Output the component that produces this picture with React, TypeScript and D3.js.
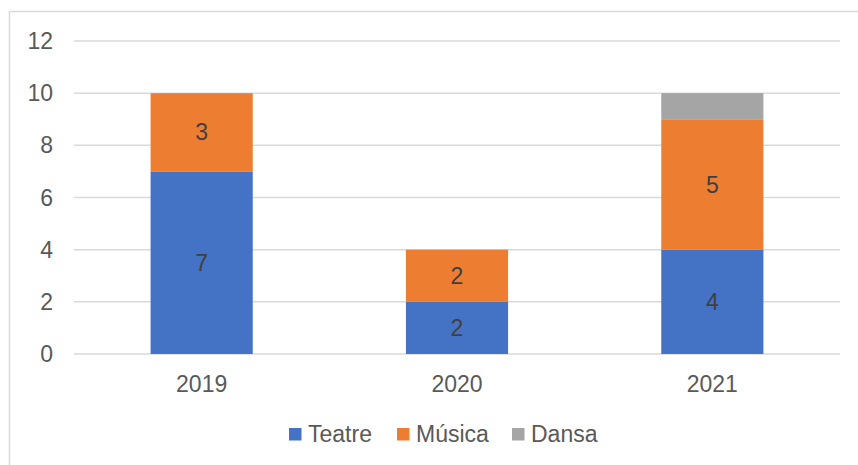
import React from "react";
import * as d3 from "d3";

const categories = ["2019", "2020", "2021"];
const seriesNames = ["Teatre", "Música", "Dansa"];
const teatre = [7, 2, 4];
const musica = [3, 2, 5];
const dansa = [0, 0, 1];
const yTicks = [0, 2, 4, 6, 8, 10, 12];
const colors = ["#4472c4", "#ed7d31", "#a5a5a5"];
const showLabel = [true, true, false];

const W = 858;
const H = 465;
const FONT = "Liberation Sans, Arial, sans-serif";
const FS = 23;

export default function App() {
  const x = d3.scaleBand<string>().domain(categories).range([74, 840]).padding(0);
  const y = d3.scaleLinear().domain([0, 12]).range([354, 41]);
  const barW = x.bandwidth() * 0.4;

  const rows = categories.map((c, i) => ({ cat: c, Teatre: teatre[i], "Música": musica[i], Dansa: dansa[i] }));
  const stack = d3.stack<any>().keys(seriesNames)(rows);

  // legend layout
  const sq = 12.5;
  const gapTxt = 6.5;
  const gapItem = 21;
  const widths = [68, 75, 68];
  let lx = 289;
  const legendItems = seriesNames.map((n, i) => {
    const item = { n, x: lx, c: colors[i] };
    lx += sq + gapTxt + widths[i] + gapItem;
    return item;
  });

  return (
    <svg width={W} height={H} style={{ position: "absolute", left: 0, top: 0, background: "#fff" }} fontFamily={FONT}>
      <rect x={9.5} y={11.5} width={W} height={H} fill="#fff" stroke="#d9d9d9" strokeWidth={1.5} />
      {yTicks.map((t) => (
        <g key={t}>
          <line x1={74} x2={840} y1={y(t)} y2={y(t)} stroke="#d9d9d9" strokeWidth={1.5} />
          <text x={53} y={y(t)} dy="0.35em" textAnchor="end" fontSize={FS} fill="#595959">{t}</text>
        </g>
      ))}
      {stack.map((s, si) => (
        <g key={s.key}>
          {s.map((d, i) => {
            const v = d[1] - d[0];
            if (v <= 0) return null;
            const cx = (x(categories[i]) as number) + x.bandwidth() / 2;
            const y0 = y(d[0]);
            const y1 = y(d[1]);
            return (
              <g key={i}>
                <rect x={cx - barW / 2} y={y1} width={barW} height={y0 - y1} fill={colors[si]} />
                {showLabel[si] && (
                  <text x={cx} y={(y0 + y1) / 2} dy="0.35em" textAnchor="middle" fontSize={FS} fill="#404040">{v}</text>
                )}
              </g>
            );
          })}
        </g>
      ))}
      {categories.map((c) => (
        <text key={c} x={(x(c) as number) + x.bandwidth() / 2} y={384} dy="0.35em" textAnchor="middle" fontSize={FS} fill="#595959">{c}</text>
      ))}
      {legendItems.map((it) => (
        <g key={it.n}>
          <rect x={it.x} y={428} width={sq} height={sq} fill={it.c} />
          <text x={it.x + sq + gapTxt} y={434} dy="0.35em" fontSize={FS} fill="#595959">{it.n}</text>
        </g>
      ))}
    </svg>
  );
}
